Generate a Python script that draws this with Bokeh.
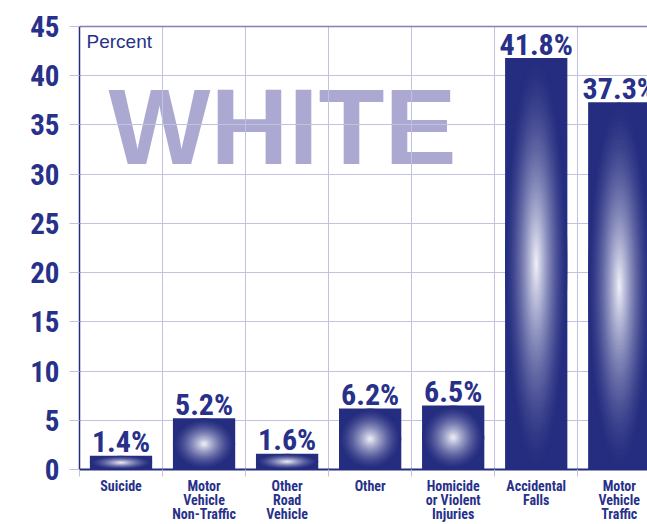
from bokeh.plotting import figure
from bokeh.models import ColumnDataSource, FixedTicker, LinearAxis, Label, Range1d
from bokeh.core.properties import value
from bokeh.embed import file_html
from bokeh.resources import INLINE

# ---- data ----
categories = ["Suicide", "Motor\nVehicle\nNon-Traffic", "Other\nRoad\nVehicle", "Other",
              "Homicide\nor Violent\nInjuries", "Accidental\nFalls", "Motor\nVehicle\nTraffic"]
values = [1.4, 5.2, 1.6, 6.2, 6.5, 41.8, 37.3]
value_labels = ["1.4%", "5.2%", "1.6%", "6.2%", "6.5%", "41.8%", "37.3%"]
y_ticks = [0, 5, 10, 15, 20, 25, 30, 35, 40, 45]
watermark = "WHITE"
unit_label = "Percent"

# ---- style ----
NAVY = "#252d80"
TEXT = "#28318a"
GRID = "#c3c1e0"
TOPLINE = "#8280b8"
WM = "#aba9d1"
FONT_C = "Roboto Condensed, DejaVu Sans Condensed, Liberation Sans"
FONT = "Liberation Sans"
BAR_W = 0.75

centers = [i + 0.5 for i in range(len(categories))]
bounds = list(range(len(categories) + 1))

p = figure(width=647, height=524, x_range=Range1d(0, 6.84), y_range=Range1d(0, 45),
           output_backend="svg", toolbar_location=None,
           min_border_left=79, min_border_top=26, min_border_right=0, min_border_bottom=53)
p.outline_line_color = None
p.background_fill_color = "white"
p.border_fill_color = "white"

# grids
p.xgrid.ticker = FixedTicker(ticks=bounds)
p.ygrid.ticker = FixedTicker(ticks=y_ticks)
p.xgrid.grid_line_color = GRID
p.ygrid.grid_line_color = GRID

# y axis
ya = p.yaxis[0]
ya.ticker = FixedTicker(ticks=y_ticks)
ya.major_tick_out = 10
ya.major_tick_in = 0
ya.major_tick_line_color = GRID
ya.minor_tick_line_color = None
ya.axis_line_color = NAVY
ya.axis_line_width = 1.5
ya.major_label_standoff = 10
ya.major_label_text_font = FONT_C
ya.major_label_text_font_style = "bold"
ya.major_label_text_font_size = "29px"
ya.major_label_text_color = TEXT

# x axis
xa = p.xaxis[0]
xa.ticker = FixedTicker(ticks=centers, minor_ticks=bounds)
xa.major_label_overrides = {c: lab for c, lab in zip(centers, categories)}
xa.major_tick_line_color = None
xa.major_tick_out = 0
xa.major_tick_in = 0
xa.minor_tick_out = 7
xa.minor_tick_in = 0
xa.minor_tick_line_color = GRID
xa.axis_line_color = NAVY
xa.axis_line_width = 2
xa.major_label_standoff = 1
xa.major_label_text_font = FONT_C
xa.major_label_text_font_style = "bold"
xa.major_label_text_font_size = "14px"
xa.major_label_text_line_height = 0.88
xa.major_label_text_color = TEXT

# top frame line
top = LinearAxis(ticker=FixedTicker(ticks=[]), axis_line_color=TOPLINE, axis_line_width=1.5,
                 major_tick_line_color=None, minor_tick_line_color=None,
                 major_label_text_font_size="0px")
p.add_layout(top, "above")

# watermark & unit label
p.add_layout(Label(x=0, y=45, x_offset=29, y_offset=-100, text=watermark,
                   text_baseline="alphabetic", text_font=FONT, text_font_style="bold",
                   text_font_size="108px", text_color=WM, level="image"))
p.add_layout(Label(x=0, y=45, x_offset=7, y_offset=-4, text=unit_label,
                   text_baseline="top", text_font=FONT, text_font_size="19px",
                   text_color=TEXT))

# bars
src = ColumnDataSource(dict(x=centers, top=values, lab=value_labels))
p.vbar(x="x", top="top", width=BAR_W, source=src, fill_color=NAVY, line_color=None)

# radial gradient highlight built from concentric ellipses
def mix(c1, c2, t):
    a = [int(c1[i:i + 2], 16) for i in (1, 3, 5)]
    b = [int(c2[i:i + 2], 16) for i in (1, 3, 5)]
    return "#" + "".join("%02x" % round(a[j] + (b[j] - a[j]) * t) for j in range(3))

N = 40
ex, ey, ew, eh, ec = [], [], [], [], []
for k in range(N):
    s = 1 - k / N
    t = (1 - s) ** 1.5
    col = mix(NAVY, "#f4f4fb", t)
    for c, v in zip(centers, values):
        ex.append(c)
        ey.append(v / 2)
        ew.append(BAR_W * s)
        eh.append(v * s)
        ec.append(col)
p.ellipse(x=ex, y=ey, width=ew, height=eh, fill_color=ec, line_color=None)

# value labels
p.text(x="x", y="top", text="lab", source=src, text_align="center",
       text_baseline="alphabetic", y_offset=-14, text_font=value(FONT_C),
       text_font_style="bold", text_font_size="30px", text_color=TEXT)

open("out.html", "w").write(file_html(p, INLINE))
